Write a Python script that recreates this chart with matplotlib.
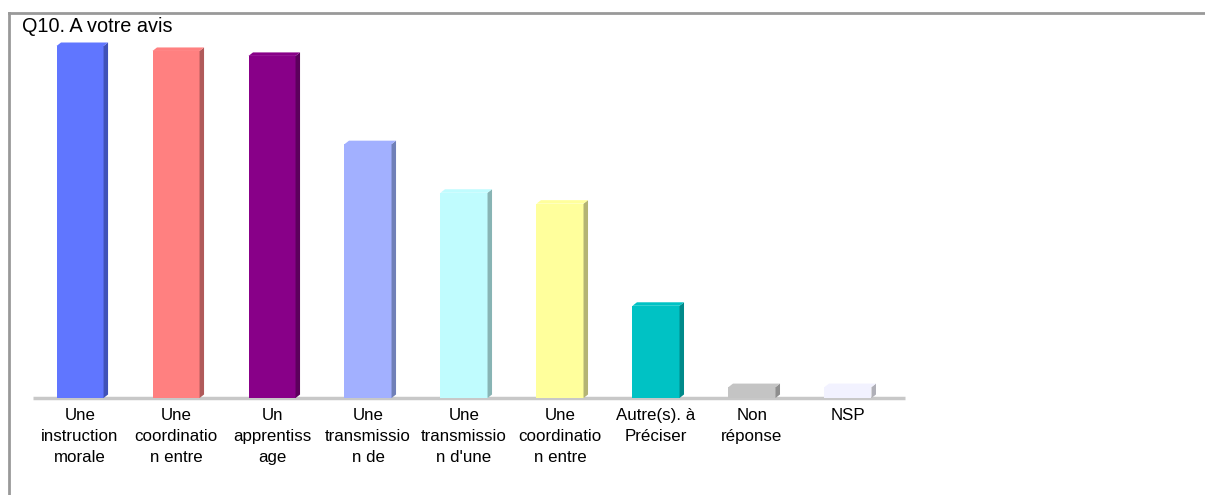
import matplotlib
matplotlib.use("Agg")
import matplotlib.pyplot as plt
from matplotlib.patches import Polygon
from matplotlib.lines import Line2D
from matplotlib.transforms import ScaledTranslation

plt.rcParams['font.family'] = ['Liberation Sans', 'DejaVu Sans']

title = "Q10. A votre avis"
categories = [
    "Une\ninstruction\nmorale",
    "Une\ncoordinatio\nn entre",
    "Un\napprentiss\nage",
    "Une\ntransmissio\nn de",
    "Une\ntransmissio\nn d'une",
    "Une\ncoordinatio\nn entre",
    "Autre(s). à\nPréciser",
    "Non\nréponse",
    "NSP",
]
values = [71.0, 70.0, 69.0, 51.2, 41.4, 39.2, 18.6, 2.2, 2.2]
front_colors = ["#6076FF", "#FF8080", "#880088", "#A2B0FF", "#C0FCFE",
                "#FFFF9C", "#00C2C4", "#C4C4C4", "#F2F2FF"]
side_colors = ["#4052B8", "#B05A5A", "#5C005C", "#7080B8", "#88B4B4",
               "#B4B474", "#008A8A", "#8E8E8E", "#B0B0B8"]

W, H = 1205, 495
fig = plt.figure(figsize=(W / 100, H / 100), dpi=100)

# outer border (top and left visible)
fig.add_artist(Line2D([9 / W, 9 / W], [0, 1 - 13 / H], color="#999999", lw=2.0,
                      transform=fig.transFigure))
fig.add_artist(Line2D([9 / W, 1], [1 - 13 / H, 1 - 13 / H], color="#999999", lw=2.0,
                      transform=fig.transFigure))

fig.text(22 / W, 1 - 27 / H, title, fontsize=14.3, ha="left", va="center")

ax_left, ax_right = 33, 905
base_y = 398
top_y = 46
ax = fig.add_axes([ax_left / W, (H - base_y) / H, (ax_right - ax_left) / W,
                   (base_y - top_y) / H])
ax.set_xlim(-0.49, 8.594)
ax.set_ylim(0, max(values))
ax.axis("off")

x = list(range(len(values)))
bw = 0.49
ax.bar(x, values, width=bw, color=front_colors, edgecolor="none", zorder=3)

# pixel offsets for the 3D side/top faces converted to data units
inv = ax.transData.inverted()
p0 = inv.transform(ax.transData.transform((0, 0)))
p1 = inv.transform(ax.transData.transform((0, 0)) + [4.5, 3.5])
dx = p1[0] - p0[0]
dy = p1[1] - p0[1]

for xi, v, fc, sc in zip(x, values, front_colors, side_colors):
    r = xi + bw / 2
    l = xi - bw / 2
    side = Polygon([(r, 0), (r, v), (r + dx, v + dy), (r + dx, dy)],
                   closed=True, facecolor=sc, edgecolor="none", zorder=3,
                   clip_on=False)
    top = Polygon([(l, v), (r, v), (r + dx, v + dy), (l + dx, v + dy)],
                  closed=True, facecolor=fc, edgecolor="none", zorder=3,
                  clip_on=False)
    ax.add_patch(side)
    ax.add_patch(top)

# floor line
ax.plot([-0.49, 8.594], [0, 0], color="#C8C8C8", lw=2.5, zorder=2,
        solid_capstyle="butt", clip_on=False)

offset = ScaledTranslation(0, -10 / 100, fig.dpi_scale_trans)
for xi, lab in zip(x, categories):
    t = ax.text(xi, 0, lab, ha="center", va="top", fontsize=12.2,
                linespacing=1.52)
    t.set_transform(ax.transData + offset)

fig.savefig("out.png", dpi=100)
